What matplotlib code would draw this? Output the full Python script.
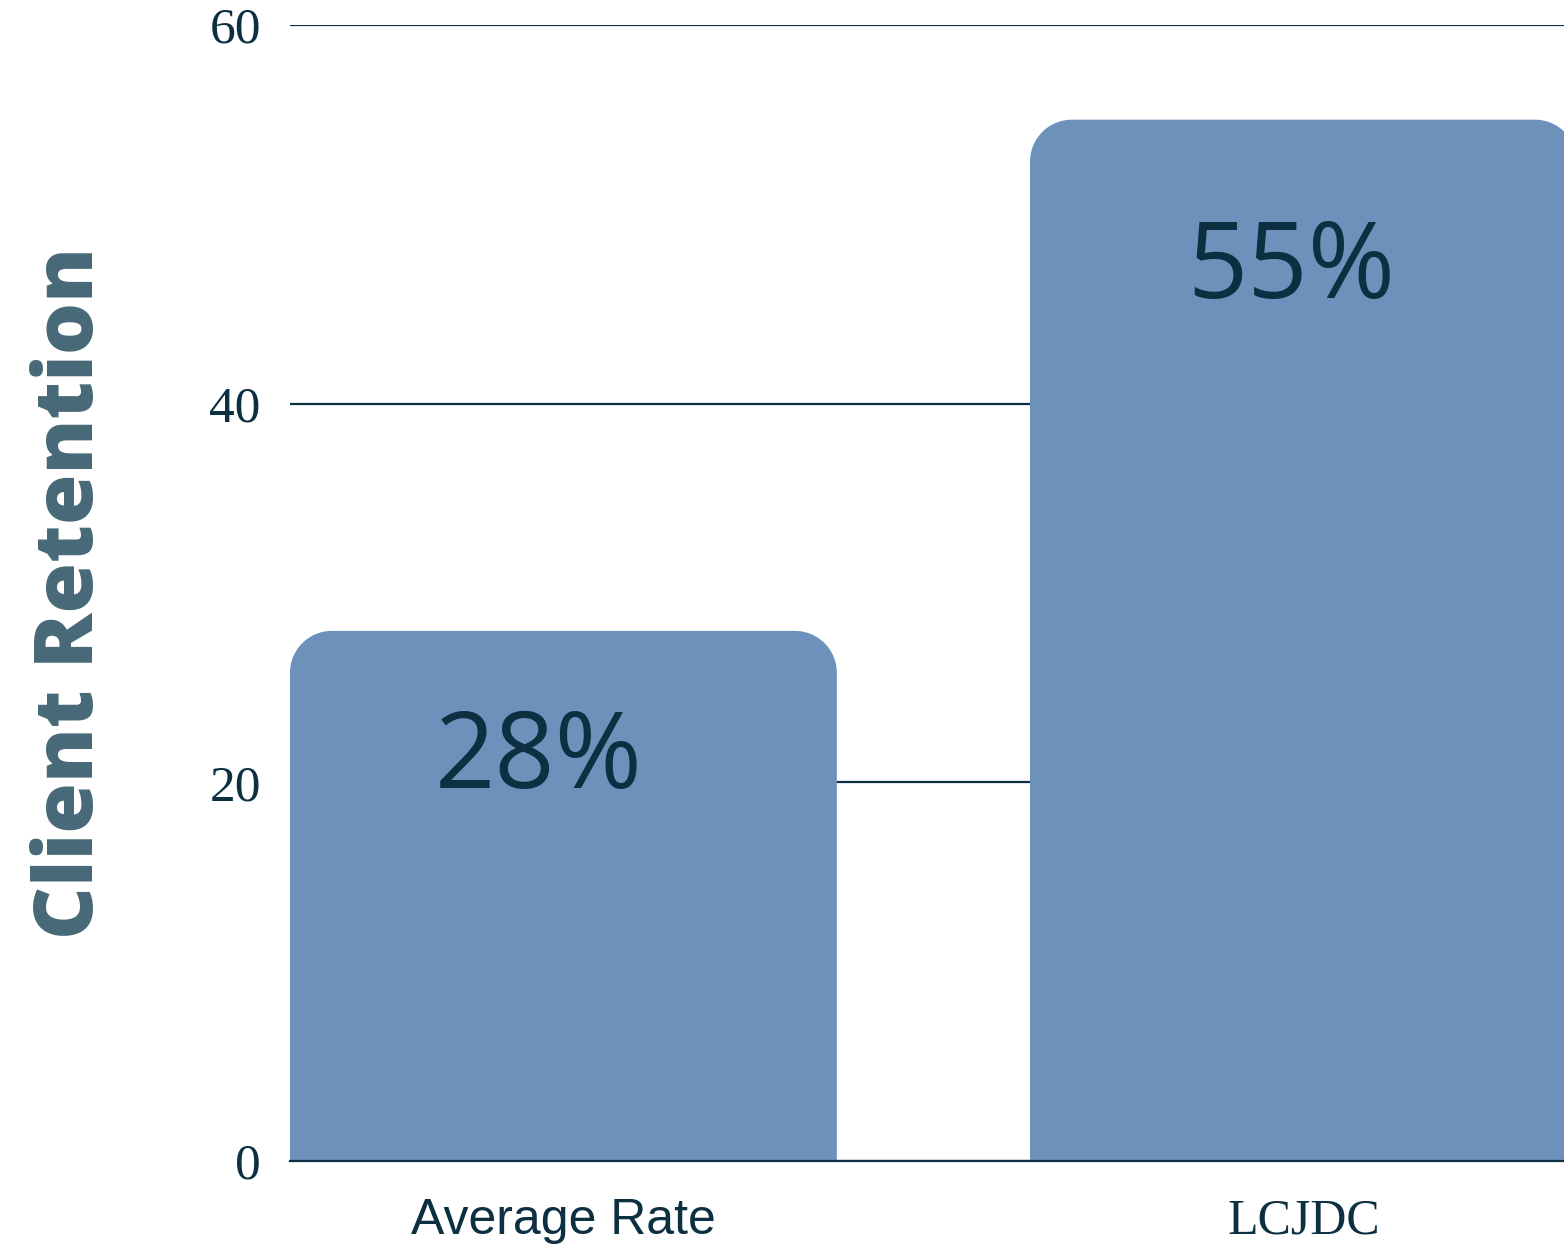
import numpy as np
import matplotlib
matplotlib.use("Agg")
import matplotlib.pyplot as plt
from matplotlib.path import Path
from matplotlib.patches import PathPatch

categories = ["Average Rate", "LCJDC"]
retention = [28, 55]
bar_labels = ["28%", "55%"]
y_ticks = [0, 20, 40, 60]

NAVY = "#0d2f42"
BAR = "#6c92bc"
LABEL_GREY = "#476977"

# where each value label sits relative to its bar top (points)
label_offsets = [(-18, -93), (-9, -108)]


def rounded_bar(ax, x, width, height, radius_px):
    # rounded top corners, square bottom; radius given in pixels
    bbox = ax.get_window_extent()
    x0, x1 = ax.get_xlim()
    y0, y1 = ax.get_ylim()
    rx = radius_px / (bbox.width / (x1 - x0))
    ry = radius_px / (bbox.height / (y1 - y0))
    k = 0.5523
    left, right = x - width / 2, x + width / 2
    verts = [
        (left, 0), (left, height - ry),
        (left, height - ry + k * ry), (left + rx - k * rx, height), (left + rx, height),
        (right - rx, height),
        (right - rx + k * rx, height), (right, height - ry + k * ry), (right, height - ry),
        (right, 0), (left, 0),
    ]
    codes = [Path.MOVETO, Path.LINETO,
             Path.CURVE4, Path.CURVE4, Path.CURVE4,
             Path.LINETO,
             Path.CURVE4, Path.CURVE4, Path.CURVE4,
             Path.LINETO, Path.CLOSEPOLY]
    patch = PathPatch(Path(verts, codes), facecolor=BAR, edgecolor="none", zorder=2)
    ax.add_patch(patch)


fig = plt.figure(figsize=(15.64, 12.5), dpi=100)
ax = fig.add_axes([0.1854, 0.0712, 0.8146, 0.9088])

width = 0.739
xs = np.arange(len(categories))
ax.set_xlim(-width / 2, -width / 2 + 1.7216)
ax.set_ylim(0, 60)

for x, v, lab, off in zip(xs, retention, bar_labels, label_offsets):
    rounded_bar(ax, x, width, v, 42)
    ax.annotate(lab, (x, v), xytext=off, textcoords="offset points",
                ha="center", va="center", fontsize=76, family="Open Sans",
                color=NAVY, zorder=3)

ax.set_yticks(y_ticks)
ax.set_yticklabels([str(t) for t in y_ticks], family="Liberation Serif", fontsize=37, color=NAVY)
ax.grid(axis="y", color=NAVY, linewidth=1.6, zorder=0)
ax.set_axisbelow(True)
ax.tick_params(axis="y", length=0, pad=21)
ax.tick_params(axis="x", length=0, pad=27)

ax.set_xticks(xs)
ax.set_xticklabels(categories, fontsize=36, color=NAVY)
ax.get_xticklabels()[0].set_family("Liberation Sans")
ax.get_xticklabels()[1].set_family("Liberation Serif")

for side in ["top", "right", "left"]:
    ax.spines[side].set_visible(False)
ax.spines["bottom"].set_color(NAVY)
ax.spines["bottom"].set_linewidth(1.6)
ax.spines["bottom"].set_zorder(4)

ax.set_ylabel("Client Retention", family="Open Sans", fontweight="heavy",
              fontsize=59, color=LABEL_GREY)
ax.yaxis.set_label_coords(-0.139, 0.5)

fig.savefig("out.png", dpi=100)
